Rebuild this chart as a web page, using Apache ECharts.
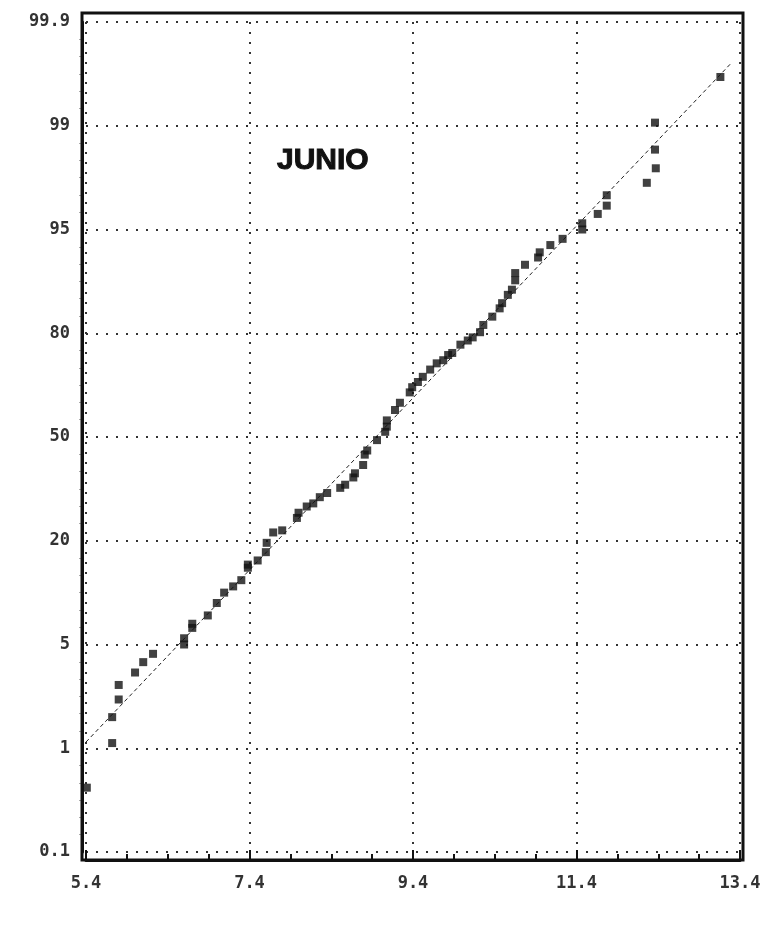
<!DOCTYPE html>
<html>
<head>
<meta charset="utf-8">
<title>JUNIO</title>
<script src="https://cdn.jsdelivr.net/npm/echarts@6/dist/echarts.min.js"></script>
<style>
  html, body { margin: 0; padding: 0; background: #fff; }
  #chart { width: 775px; height: 938px; }
</style>
</head>
<body>
<div id="chart"></div>
<script>
// tick labels of the probability axis (evenly spaced on the paper)
var probLabels = ['0.1', '1', '5', '20', '50', '80', '95', '99', '99.9'];

// observed values (x) and their position on the probability paper (0 = 0.1 ... 8 = 99.9)
var xVals = [5.41, 5.72, 5.72, 5.80, 5.80, 6.00, 6.10, 6.22, 6.60, 6.60,
             6.70, 6.70, 6.89, 7.00, 7.09, 7.20, 7.30, 7.38, 7.38, 7.50,
             7.60, 7.61, 7.69, 7.80, 7.98, 8.00, 8.10, 8.18, 8.26, 8.35,
             8.51, 8.57, 8.67, 8.69, 8.79, 8.81, 8.84, 8.96, 9.06, 9.08,
             9.08, 9.18, 9.24, 9.36, 9.39, 9.46, 9.52, 9.61, 9.69, 9.77,
             9.83, 9.88, 9.98, 10.07, 10.13, 10.22, 10.26, 10.37, 10.46, 10.49,
             10.56, 10.61, 10.65, 10.65, 10.77, 10.93, 10.95, 11.08, 11.23, 11.47,
             11.47, 11.66, 11.77, 11.77, 12.26, 12.37, 12.36, 12.36, 13.16];
var probPos = [0.62, 1.05, 1.30, 1.47, 1.61, 1.73, 1.83, 1.91, 2.00, 2.06,
               2.16, 2.20, 2.28, 2.40, 2.50, 2.56, 2.62, 2.74, 2.77, 2.81,
               2.89, 2.98, 3.08, 3.10, 3.22, 3.27, 3.33, 3.36, 3.42, 3.46,
               3.51, 3.54, 3.61, 3.65, 3.73, 3.83, 3.87, 3.97, 4.05, 4.10,
               4.16, 4.26, 4.33, 4.43, 4.48, 4.53, 4.58, 4.65, 4.71, 4.74,
               4.79, 4.81, 4.89, 4.93, 4.96, 5.01, 5.08, 5.16, 5.24, 5.29,
               5.37, 5.42, 5.51, 5.58, 5.66, 5.73, 5.78, 5.85, 5.91, 6.00,
               6.06, 6.15, 6.23, 6.33, 6.45, 6.59, 6.77, 7.03, 7.47];

// fitted normal line (ends)
var fitX = [5.4, 13.3];
var fitY = [1.06, 7.61];

var points = [];
for (var i = 0; i < xVals.length; i++) {
    points.push([xVals[i], probPos[i]]);
}
var fitLine = [[fitX[0], fitY[0]], [fitX[1], fitY[1]]];

var chart = echarts.init(document.getElementById('chart'));

var labelFont = {
    fontFamily: 'DejaVu Sans Mono',
    fontWeight: 'bold',
    fontSize: 17,
    color: '#333'
};
var dotted = { type: [2, 8], width: 2, color: '#333' };

var option = {
    backgroundColor: '#fff',
    animation: false,
    title: {
        text: 'JUNIO',
        left: 272,
        top: 141,
        textStyle: {
            fontFamily: 'Liberation Sans',
            fontWeight: 'bold',
            fontSize: 30,
            color: '#111',
            textBorderColor: '#111',
            textBorderWidth: 1
        }
    },
    grid: { left: 86, right: 35, top: 22, bottom: 86 },
    xAxis: {
        type: 'value',
        min: 5.4,
        max: 13.4,
        interval: 2,
        offset: 8,
        axisLine: { show: true, onZero: false, lineStyle: { color: '#111', width: 3 } },
        axisTick: { show: true, inside: true, length: 10, lineStyle: { color: '#111', width: 2 } },
        minorTick: { show: true, splitNumber: 4, length: 6, lineStyle: { color: '#111', width: 2 } },
        axisLabel: Object.assign({
            margin: 15,
            formatter: function (v) { return v.toFixed(1); }
        }, labelFont),
        splitLine: { show: true, lineStyle: dotted }
    },
    yAxis: {
        type: 'value',
        min: 0,
        max: 8,
        interval: 1,
        offset: 4,
        axisLine: { show: true, onZero: false, lineStyle: { color: '#111', width: 3 } },
        axisTick: { show: false },
        minorTick: { show: true, splitNumber: 6, length: 3, lineStyle: { color: '#aaa', width: 1 } },
        axisLabel: Object.assign({
            margin: 12,
            formatter: function (v) { return probLabels[Math.round(v)]; }
        }, labelFont),
        splitLine: { show: true, lineStyle: dotted }
    },
    graphic: [{
        type: 'rect',
        shape: { x: 82, y: 13, width: 661, height: 847 },
        style: { fill: null, stroke: '#111', lineWidth: 3 },
        z: 100
    }],
    series: [{
        type: 'line',
        data: fitLine,
        symbol: 'none',
        lineStyle: { color: '#222', width: 1, type: [4, 3] },
        z: 2
    }, {
        type: 'scatter',
        data: points,
        symbol: 'rect',
        symbolSize: 8,
        itemStyle: { color: '#111' },
        z: 3
    }]
};

chart.setOption(option);
</script>
</body>
</html>
